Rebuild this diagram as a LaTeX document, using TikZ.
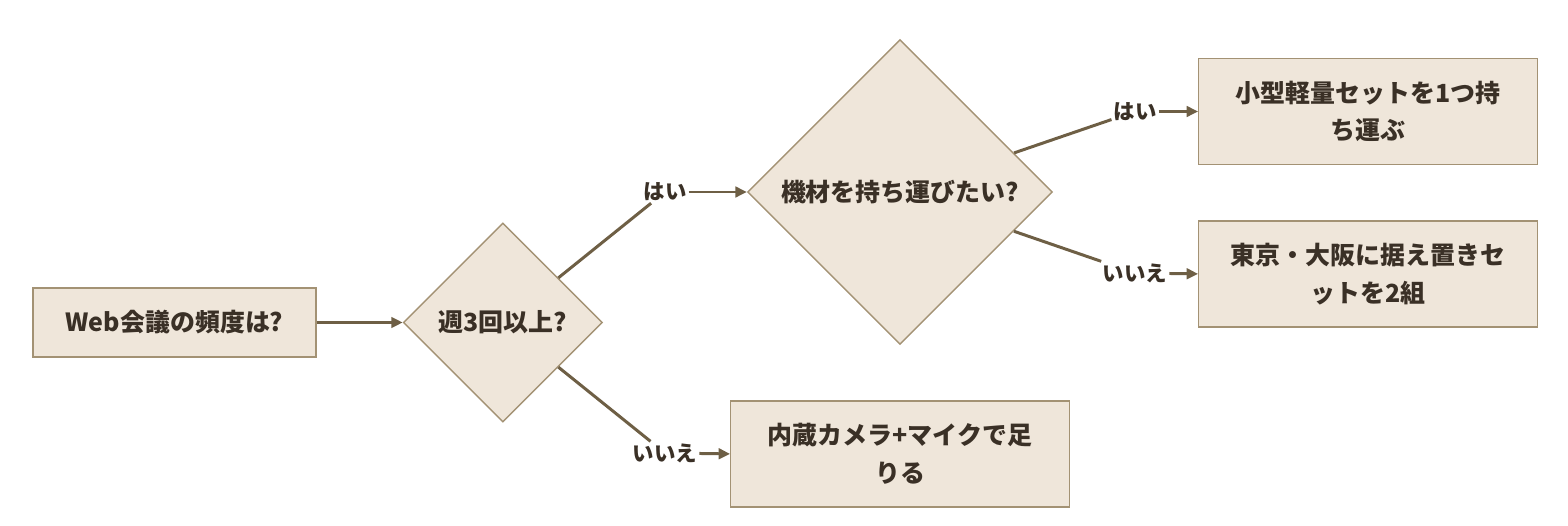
\documentclass[tikz,border=0pt]{standalone}
\usepackage{fontspec}
\setmainfont{Noto Sans CJK JP}
\usetikzlibrary{arrows.meta, positioning, shapes.geometric}

\definecolor{boxfill}{HTML}{EFE6DA}
\definecolor{boxline}{HTML}{A39274}
\definecolor{edgecol}{HTML}{6E5F45}
\definecolor{txtcol}{HTML}{3A3026}

\begin{document}
\begin{tikzpicture}[
    >={Triangle[length=6.5pt, width=6pt]},
    font=\fontsize{14.2}{21.5}\selectfont\bfseries,
    text=txtcol,
    block/.style={
        draw=boxline,
        rectangle,
        line width=0.8pt,
        minimum height=2.12cm,
        minimum width=6.77cm,
        align=center,
        fill=boxfill
    },
    decision/.style={
        draw=boxline,
        diamond,
        line width=0.8pt,
        inner sep=0pt,
        fill=boxfill
    },
    answer/.style={fill=white, inner sep=1pt, font=\fontsize{12.2}{14}\selectfont\bfseries},
    arrow/.style={->, line width=1.7pt, draw=edgecol}
]
\useasboundingbox (0,0) rectangle (31.36,-10.52);

\node[block, minimum width=5.66cm, minimum height=1.38cm] (freq) at (3.49,-6.45) {Web会議の頻度は?};
\node[decision, minimum size=3.98cm, right=1.72cm of freq] (weekly) {週3回以上?};
\node[decision, minimum size=6.1cm] (carry) at (18.0,-3.84) {機材を持ち運びたい?};
\node[block, below=1.1cm of carry] (builtin) {内蔵カメラ+マイクで足\\りる};
\node[block] (mobile) at (27.36,-2.23) {小型軽量セットを1つ持\\ち運ぶ};
\node[block, below=1.1cm of mobile] (fixed) {東京・大阪に据え置きセ\\ットを2組};

\node[answer] (yes1) at (13.3,-3.84) {はい};
\node[answer] (no1) at (13.3,-9.06) {いいえ};
\node[answer] (yes2) at (22.7,-2.23) {はい};
\node[answer] (no2) at (22.7,-5.46) {いいえ};

\draw[arrow] (freq) -- (weekly);
\draw[arrow, -] (weekly) -- (yes1);
\draw[arrow] (yes1) -- (carry.west);
\draw[arrow, -] (weekly) -- (no1);
\draw[arrow] (no1) -- (builtin.west);
\draw[arrow, -] (carry) -- (yes2);
\draw[arrow] (yes2) -- (mobile.west);
\draw[arrow, -] (carry) -- (no2);
\draw[arrow] (no2) -- (fixed.west);

\end{tikzpicture}
\end{document}
